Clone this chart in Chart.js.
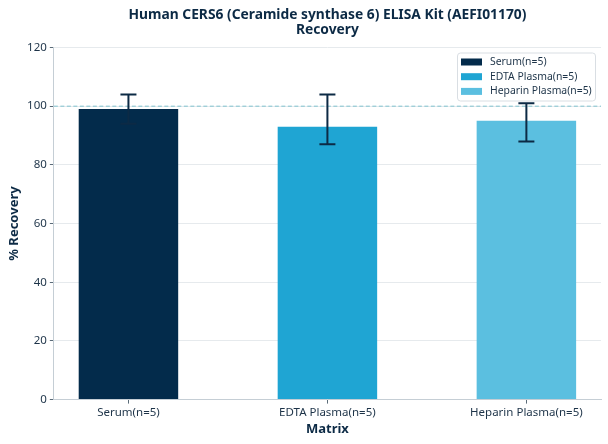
<!DOCTYPE html>
<html lang="en">

<head>
    <meta charset="UTF-8">
    <title>CERS6 ELISA Kit - Recovery</title>
    <script src="https://cdn.jsdelivr.net/npm/chart.js"></script>
    <style>
        html, body { margin: 0; padding: 0; background: #fff; }
        #wrap { width: 608px; height: 444px; }
    </style>
</head>

<body>
    <div id="wrap"><canvas id="recoveryChart" width="608" height="444"></canvas></div>

    <script>
        // Datos del gráfico
        const categories = ['Serum(n=5)', 'EDTA Plasma(n=5)', 'Heparin Plasma(n=5)'];
        const recovery = [99, 93, 95];
        const errLow = [94, 87, 88];
        const errHigh = [104, 104, 101];
        const barColors = ['#032b4b', '#1fa5d3', '#5bbfe0'];
        const yTicks = [0, 20, 40, 60, 80, 100, 120];
        const refLine = 100;
        const titleLines = ['Human CERS6 (Ceramide synthase 6) ELISA Kit (AEFI01170)', 'Recovery'];

        const textColor = '#1d3348';
        const navy = '#0c2a45';
        const fontFamily = '"Noto Sans", "Open Sans", sans-serif';

        // Título centrado sobre el área del gráfico
        const axesTitle = {
            id: 'axesTitle',
            afterDraw(chart) {
                const { ctx, chartArea } = chart;
                const cx = (chartArea.left + chartArea.right) / 2;
                ctx.save();
                ctx.fillStyle = navy;
                ctx.font = 'bold 13.8px ' + fontFamily;
                ctx.textAlign = 'center';
                ctx.textBaseline = 'middle';
                titleLines.forEach((t, i) => ctx.fillText(t, cx, 15 + i * 15.5));
                ctx.restore();
            }
        };

        // Barras de error
        const errorBars = {
            id: 'errorBars',
            afterDatasetsDraw(chart) {
                const { ctx, scales: { x, y } } = chart;
                ctx.save();
                ctx.strokeStyle = navy;
                ctx.lineWidth = 2;
                categories.forEach((c, i) => {
                    const px = x.getPixelForValue(i);
                    const top = y.getPixelForValue(errHigh[i]);
                    const bot = y.getPixelForValue(errLow[i]);
                    ctx.beginPath();
                    ctx.moveTo(px, top); ctx.lineTo(px, bot);
                    ctx.moveTo(px - 8, top); ctx.lineTo(px + 8, top);
                    ctx.moveTo(px - 8, bot); ctx.lineTo(px + 8, bot);
                    ctx.stroke();
                });
                ctx.restore();
            }
        };

        // Línea de referencia 100%
        const refLinePlugin = {
            id: 'refLine',
            beforeDatasetsDraw(chart) {
                const { ctx, chartArea, scales: { y } } = chart;
                const py = y.getPixelForValue(refLine);
                ctx.save();
                ctx.strokeStyle = '#80c3cf';
                ctx.lineWidth = 1;
                ctx.setLineDash([4, 2.5]);
                ctx.beginPath();
                ctx.moveTo(chartArea.left, py);
                ctx.lineTo(chartArea.right, py);
                ctx.stroke();
                ctx.restore();
            }
        };

        // Leyenda dentro del área
        const boxLegend = {
            id: 'boxLegend',
            afterDraw(chart) {
                const { ctx, chartArea } = chart;
                const w = 138, h = 48;
                const lx = chartArea.right - 6 - w, ly = chartArea.top + 5;
                ctx.save();
                ctx.fillStyle = 'rgba(255,255,255,0.85)';
                ctx.strokeStyle = '#d9dee3';
                ctx.lineWidth = 1;
                ctx.beginPath();
                ctx.roundRect(lx + 0.5, ly + 0.5, w, h, 3);
                ctx.fill();
                ctx.stroke();
                ctx.font = '10.4px ' + fontFamily;
                ctx.textBaseline = 'middle';
                categories.forEach((c, i) => {
                    const cy = ly + 9.5 + i * 14.7;
                    ctx.fillStyle = barColors[i];
                    ctx.fillRect(lx + 4, cy - 3.5, 21, 7);
                    ctx.fillStyle = textColor;
                    ctx.fillText(c, lx + 33, cy);
                });
                ctx.restore();
            }
        };

        const ctx1 = document.getElementById('recoveryChart').getContext('2d');
        new Chart(ctx1, {
            type: 'bar',
            data: {
                datasets: [{
                    data: categories.map((c, i) => ({ x: i, y: recovery[i] })),
                    backgroundColor: barColors,
                    borderWidth: 0,
                    barPercentage: 0.5,
                    categoryPercentage: 1
                }]
            },
            options: {
                responsive: false,
                animation: false,
                layout: { padding: { left: 6, right: 7, top: 47.5, bottom: 7 } },
                plugins: {
                    legend: { display: false },
                    tooltip: { enabled: false },
                    title: { display: false }
                },
                scales: {
                    x: {
                        type: 'linear',
                        min: -0.375,
                        max: 2.375,
                        offset: false,
                        afterBuildTicks: (scale) => {
                            scale.ticks = categories.map((c, i) => ({ value: i }));
                        },
                        ticks: {
                            callback: (v) => categories[v],
                            color: textColor,
                            font: { family: fontFamily, size: 11.5 },
                            autoSkip: false,
                            maxRotation: 0,
                            padding: 2
                        },
                        grid: { display: true, offset: false, drawOnChartArea: false, drawTicks: true, tickLength: 4, tickColor: '#5a6b78' },
                        border: { color: '#c5ced5' },
                        title: {
                            display: true,
                            text: 'Matrix',
                            color: navy,
                            font: { family: fontFamily, size: 13, weight: 'bold' },
                            padding: { top: 0, bottom: 0 }
                        }
                    },
                    y: {
                        min: 0,
                        max: 120,
                        afterBuildTicks: (scale) => {
                            scale.ticks = yTicks.map(v => ({ value: v }));
                        },
                        ticks: {
                            color: textColor,
                            font: { family: fontFamily, size: 11.5 },
                            padding: 3
                        },
                        grid: { color: '#e6eaed', tickLength: 4, tickColor: '#5a6b78' },
                        border: { color: '#c5ced5' },
                        title: {
                            display: true,
                            text: '% Recovery',
                            color: navy,
                            font: { family: fontFamily, size: 13, weight: 'bold' },
                            padding: { top: 0, bottom: 2.5 }
                        }
                    }
                }
            },
            plugins: [refLinePlugin, errorBars, boxLegend, axesTitle]
        });
    </script>
</body>

</html>
